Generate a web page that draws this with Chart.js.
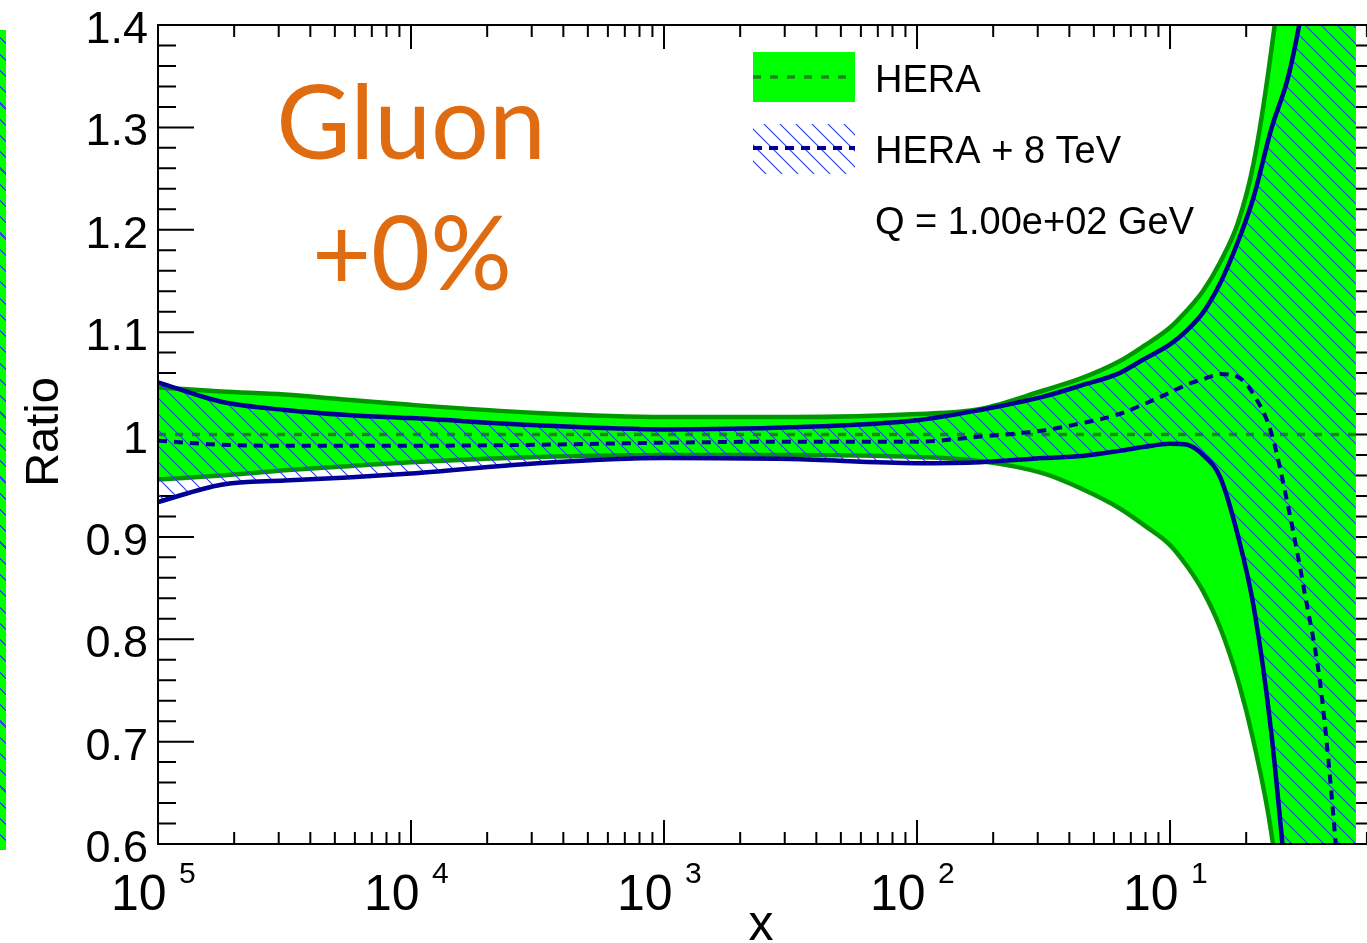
<!DOCTYPE html>
<html>
<head>
<meta charset="utf-8">
<title>Gluon ratio</title>
<script src="https://cdn.jsdelivr.net/npm/chart.js@4.4.0/dist/chart.umd.min.js"></script>
<style>
  html, body { margin: 0; padding: 0; background: #fff; overflow: hidden; }
  #wrap { position: relative; width: 1367px; height: 943px; overflow: hidden; }
  #strip { position: absolute; left: 0; top: 30px; width: 6px; height: 820px;
    background: repeating-linear-gradient(45deg, #00ff00 0 10px, #3344ee 10px 11.5px); }
  #ratioChart { position: absolute; left: 0; top: 0; width: 1400px; height: 943px; }
</style>
</head>
<body>
<div id="wrap">
  <div id="strip"></div>
  <canvas id="ratioChart" width="1400" height="943"></canvas>
</div>
<script>
    // sampling points in x
    const xValues = [1e-5, 1.78e-5, 3.16e-5, 5.62e-5, 1e-4, 3.16e-4, 1e-3, 3.16e-3, 1e-2, 1.78e-2,
      3.16e-2, 4.47e-2, 6.31e-2, 7.94e-2, 0.1, 0.117, 0.135, 0.158, 0.186, 0.214,
      0.251, 0.295, 0.339, 0.398, 0.468, 0.543];

    // HERA band (ratio to HERA central value)
    const heraUpper = [1.046, 1.042, 1.039, 1.034, 1.029, 1.021, 1.017, 1.017, 1.020, 1.025,
      1.043, 1.055, 1.0715, 1.087, 1.1045, 1.1216, 1.1402, 1.1685, 1.2076, 1.2652,
      1.374, 1.52, 1.70, 1.90, 2.10, 2.30];
    const heraLower = [0.956, 0.960, 0.965, 0.969, 0.973, 0.978, 0.980, 0.980, 0.978, 0.974,
      0.962, 0.947, 0.928, 0.911, 0.892, 0.871, 0.847, 0.811, 0.759, 0.700,
      0.612, 0.47, 0.28, 0.06, -0.17, -0.42];
    const heraCentralX = [1e-5, 0.543];
    const heraCentral = [1, 1];

    // HERA + 8 TeV band
    const nnUpper = [1.051, 1.032, 1.024, 1.019, 1.016, 1.009, 1.005, 1.007, 1.014, 1.024,
      1.037, 1.048, 1.060, 1.074, 1.088, 1.102, 1.119, 1.148, 1.189, 1.232,
      1.298, 1.352, 1.428, 1.55, 1.70, 1.85];
    const nnLower = [0.934, 0.951, 0.955, 0.958, 0.962, 0.972, 0.977, 0.976, 0.972, 0.973,
      0.977, 0.979, 0.984, 0.988, 0.991, 0.990, 0.980, 0.958, 0.900, 0.832,
      0.710, 0.53, 0.35, 0.15, -0.05, -0.25];
    const nnCentral = [0.994, 0.990, 0.989, 0.989, 0.989, 0.990, 0.992, 0.993, 0.993, 0.998,
      1.004, 1.011, 1.020, 1.030, 1.041, 1.049, 1.054, 1.059, 1.056, 1.039,
      1.002, 0.926, 0.848, 0.744, 0.55, 0.30];

    const yTickValues = [0.6, 0.7, 0.8, 0.9, 1.0, 1.1, 1.2, 1.3, 1.4];
    const yTickLabels = ['0.6', '0.7', '0.8', '0.9', '1', '1.1', '1.2', '1.3', '1.4'];
    const xTickValues = [1e-5, 1e-4, 1e-3, 1e-2, 1e-1];
    const xTickExponents = ['5', '4', '3', '2', '1'];

    const LIME = '#00ff00';
    const HERA_EDGE = 'rgb(0,150,0)';
    const HERA_DASH = 'rgb(30,130,30)';
    const NAVY = 'rgb(0,0,150)';
    const HATCH = 'rgb(45,65,235)';
    const ORANGE = '#e06c12';
    const FONT = '"Liberation Sans", Arial, Helvetica, sans-serif';

    const canvas = document.getElementById('ratioChart');

    function makeHatch(ctx) {
      const c = document.createElement('canvas');
      c.width = 16;
      c.height = 16;
      const g = c.getContext('2d');
      g.strokeStyle = HATCH;
      g.lineWidth = 1.2;
      g.beginPath();
      for (const off of [-16, 0, 16]) {
        g.moveTo(0, off);
        g.lineTo(16, off + 16);
      }
      g.stroke();
      return ctx.createPattern(c, 'repeat');
    }
    const hatch = makeHatch(canvas.getContext('2d'));

    const toPoints = (xs, ys) => xs.map((x, i) => ({ x: x, y: ys[i] }));

    // ticks pointing inwards on all four sides, frame, labels and legend
    const rootFrame = {
      id: 'rootFrame',
      beforeDatasetsDraw(chart) {
        const { ctx, chartArea: a, scales: { x, y } } = chart;
        ctx.save();
        ctx.strokeStyle = '#000';
        ctx.lineWidth = 2;
        ctx.beginPath();
        for (let i = 30; i <= 70; i++) {
          const py = y.getPixelForValue(i / 50);
          const len = i % 5 === 0 ? 36 : 18;
          ctx.moveTo(a.left, py); ctx.lineTo(a.left + len, py);
          ctx.moveTo(a.right, py); ctx.lineTo(a.right - len, py);
        }
        for (let n = -5; n <= -1; n++) {
          for (let k = 1; k <= 9; k++) {
            const v = k * Math.pow(10, n);
            if (v > x.max) break;
            const px = x.getPixelForValue(v);
            const len = k === 1 ? 24 : 12;
            ctx.moveTo(px, a.bottom); ctx.lineTo(px, a.bottom - len);
            ctx.moveTo(px, a.top); ctx.lineTo(px, a.top + len);
          }
        }
        ctx.stroke();
        ctx.restore();
      },
      afterDatasetsDraw(chart) {
        const { ctx, chartArea: a } = chart;
        ctx.save();
        ctx.strokeStyle = '#000';
        ctx.lineWidth = 2;
        ctx.strokeRect(a.left, a.top, a.right - a.left, a.bottom - a.top);
        ctx.restore();
      },
      afterDraw(chart) {
        const { ctx, chartArea: a, scales: { x, y } } = chart;
        ctx.save();
        ctx.fillStyle = '#000';

        // y tick labels
        ctx.font = '45px ' + FONT;
        ctx.textAlign = 'right';
        ctx.textBaseline = 'alphabetic';
        yTickValues.forEach((v, i) => {
          ctx.fillText(yTickLabels[i], a.left - 10, y.getPixelForValue(v) + 18);
        });

        // x tick labels: 10 with exponent
        ctx.textAlign = 'left';
        xTickValues.forEach((v, i) => {
          const px = x.getPixelForValue(v);
          ctx.font = '50px ' + FONT;
          ctx.fillText('10', px - 47, 910);
          ctx.font = '30px ' + FONT;
          ctx.fillText(xTickExponents[i], px + 21, 883);
        });

        // axis titles
        ctx.font = '50px ' + FONT;
        ctx.textAlign = 'center';
        ctx.fillText('x', 761, 940);
        ctx.save();
        ctx.translate(58, 432);
        ctx.rotate(-Math.PI / 2);
        ctx.font = '47px ' + FONT;
        ctx.fillText('Ratio', 0, 0);
        ctx.restore();

        // legend
        ctx.fillStyle = LIME;
        ctx.fillRect(753, 52, 102, 50);
        ctx.fillStyle = hatch;
        ctx.fillRect(753, 124, 102, 50);
        ctx.lineWidth = 3.5;
        ctx.strokeStyle = HERA_DASH;
        ctx.setLineDash([8, 9]);
        ctx.beginPath(); ctx.moveTo(753, 77); ctx.lineTo(855, 77); ctx.stroke();
        ctx.lineWidth = 4;
        ctx.strokeStyle = NAVY;
        ctx.setLineDash([9, 7]);
        ctx.beginPath(); ctx.moveTo(753, 148); ctx.lineTo(855, 148); ctx.stroke();
        ctx.setLineDash([]);

        ctx.fillStyle = '#000';
        ctx.textAlign = 'left';
        ctx.font = '38px ' + FONT;
        ctx.fillText('HERA', 875, 92);
        ctx.fillText('HERA + 8 TeV', 875, 163);
        ctx.fillText('Q = 1.00e+02 GeV', 875, 234);

        // parton label
        ctx.fillStyle = ORANGE;
        ctx.textAlign = 'center';
        ctx.font = '102px Lato, "Open Sans", sans-serif';
        ctx.fillText('Gluon', 411, 159);
        ctx.fillText('+0%', 412, 290);
        ctx.restore();
      }
    };

    const ratioChart = new Chart(canvas, {
      type: 'line',
      data: {
        datasets: [
          {
            label: 'HERA up',
            data: toPoints(xValues, heraUpper),
            borderColor: HERA_EDGE,
            borderWidth: 4.5,
            backgroundColor: LIME,
            fill: 1,
            order: 7
          },
          {
            label: 'HERA down',
            data: toPoints(xValues, heraLower),
            borderColor: HERA_EDGE,
            borderWidth: 4.5,
            fill: false,
            order: 6
          },
          {
            label: 'HERA',
            data: toPoints(heraCentralX, heraCentral),
            borderColor: HERA_DASH,
            borderWidth: 3.5,
            borderDash: [8, 9],
            fill: false,
            order: 5
          },
          {
            label: 'HERA + 8 TeV up',
            data: toPoints(xValues, nnUpper),
            borderColor: NAVY,
            borderWidth: 4.5,
            backgroundColor: hatch,
            fill: 4,
            order: 4
          },
          {
            label: 'HERA + 8 TeV down',
            data: toPoints(xValues, nnLower),
            borderColor: NAVY,
            borderWidth: 4.5,
            fill: false,
            order: 3
          },
          {
            label: 'HERA + 8 TeV',
            data: toPoints(xValues, nnCentral),
            borderColor: NAVY,
            borderWidth: 4,
            borderDash: [9, 7],
            fill: false,
            order: 2
          }
        ]
      },
      options: {
        responsive: false,
        animation: false,
        devicePixelRatio: 1,
        layout: { padding: { left: 158, top: 25, right: 26, bottom: 99 } },
        elements: {
          point: { radius: 0 },
          line: { cubicInterpolationMode: 'monotone' }
        },
        datasets: { line: { clip: 0 } },
        plugins: {
          legend: { display: false },
          tooltip: { enabled: false }
        },
        scales: {
          x: { type: 'logarithmic', min: 1e-5, max: 0.64, bounds: 'data', display: false },
          y: { type: 'linear', min: 0.6, max: 1.4, bounds: 'data', display: false }
        }
      },
      plugins: [rootFrame]
    });
</script>
</body>
</html>
